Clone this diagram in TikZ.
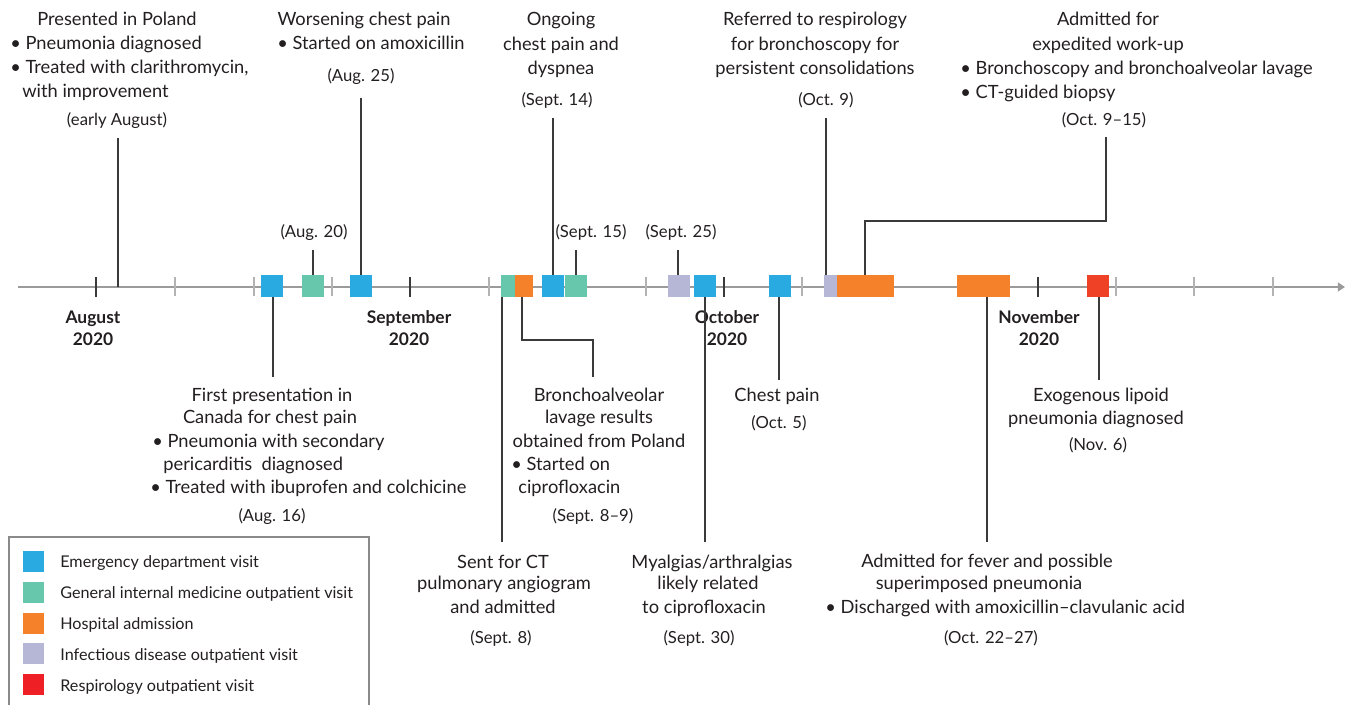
\documentclass[tikz,border=0pt]{standalone}
\usepackage{fontspec}
\setmainfont{Lato}
\usetikzlibrary{arrows.meta}
\definecolor{edblue}{HTML}{29ABE2}
\definecolor{gimgreen}{HTML}{66C7AD}
\definecolor{hosporange}{HTML}{F5822A}
\definecolor{idlav}{HTML}{B6B6D6}
\definecolor{resred}{HTML}{EE4125}
\definecolor{keyred}{HTML}{EE2025}
\definecolor{textc}{HTML}{231F20}
\definecolor{connc}{HTML}{3A3A3A}
\definecolor{axisc}{HTML}{9B9B9B}
\definecolor{tickc}{HTML}{B3B3B3}
\definecolor{framec}{HTML}{8A8A8A}
\begin{document}
\begin{tikzpicture}[x=0.02cm,y=-0.02cm,
  txt/.style={font=\fontsize{10.4}{12}\selectfont, text=textc, inner sep=0pt, anchor=base},
  lft/.style={txt, anchor=base west},
  date/.style={txt, font=\fontsize{9.5}{11}\selectfont},
  month/.style={txt, font=\fontsize{9.9}{11}\selectfont\bfseries},
  keytxt/.style={txt, anchor=base west, font=\fontsize{9.2}{11}\selectfont},
  evbox/.style={rectangle, inner sep=0pt, minimum height=0.44cm, minimum width=0.44cm},
  conn/.style={draw=connc, line width=0.7pt},
  majtick/.style={draw=connc, line width=0.6pt},
  mintick/.style={draw=tickc, line width=0.7pt},
  axisline/.style={draw=axisc, line width=0.9pt, -{Triangle[length=4pt,width=5pt]}},
  keybox/.style={rectangle, inner sep=0pt, minimum size=0.42cm},
  keyframe/.style={draw=framec, line width=0.6pt},
]
\useasboundingbox (0,0) rectangle (1345,705);

% axis
\coordinate (axs) at (18,287);
\coordinate (axe) at (1345,287);
\draw[axisline] (axs) -- (axe);
\foreach \x in {175,254,332,489,567,646,802,880,959,1116,1194,1273}
  \draw[mintick] (\x,277) -- (\x,296);
\foreach \x in {96,410,724,1038}
  \draw[majtick] (\x,277) -- (\x,297);

% months
\node[month] (mAug) at (93,324) {August};
\node[month] (mAugY) at (93,346) {2020};
\node[month] (mSep) at (409,324) {September};
\node[month] (mSepY) at (409,346) {2020};
\node[month] (mOct) at (727,324) {October};
\node[month] (mOctY) at (727,346) {2020};
\node[month] (mNov) at (1039,324) {November};
\node[month] (mNovY) at (1039,346) {2020};

% event boxes
\node[evbox, fill=edblue] (b16) at (272,286) {};
\node[evbox, fill=gimgreen] (g20) at (313,286) {};
\node[evbox, fill=edblue] (b25) at (361,286) {};
\node[evbox, fill=gimgreen, minimum width=0.28cm] (g08) at (508,286) {};
\node[evbox, fill=hosporange, minimum width=0.36cm] (h08) at (524,286) {};
\node[evbox, fill=edblue] (b14) at (553,286) {};
\node[evbox, fill=gimgreen] (g15) at (576,286) {};
\node[evbox, fill=idlav] (i25) at (679,286) {};
\node[evbox, fill=edblue] (b30) at (705,286) {};
\node[evbox, fill=edblue] (b05) at (780,286) {};
\node[evbox, fill=idlav, minimum width=0.26cm] (i09) at (830.5,286) {};
\node[evbox, fill=hosporange, minimum width=1.14cm] (h09) at (865.5,286) {};
\node[evbox, fill=hosporange, minimum width=1.06cm] (h22) at (983.5,286) {};
\node[evbox, fill=resred] (r06) at (1098,286) {};

% ---- top labels
\node[txt] (t1a) at (117,26) {Presented in Poland};
\node[lft] (t1b) at (10,50) {• Pneumonia diagnosed};
\node[lft] (t1c) at (10,74) {• Treated with clarithromycin,};
\node[lft] (t1d) at (22,98) {with improvement};
\node[date] (t1e) at (117,126) {(early August)};

\node[txt] (t2a) at (364,26) {Worsening chest pain};
\node[lft] (t2b) at (277,50) {• Started on amoxicillin};
\node[date] (t2c) at (361,82) {(Aug. 25)};

\node[txt] (t3a) at (561,26) {Ongoing};
\node[txt] (t3b) at (561,51) {chest pain and};
\node[txt] (t3c) at (561,75) {dyspnea};
\node[date] (t3d) at (557,106) {(Sept. 14)};

\node[txt] (t4a) at (815,26) {Referred to respirology};
\node[txt] (t4b) at (815,51) {for bronchoscopy for};
\node[txt] (t4c) at (815,75) {persistent consolidations};
\node[date] (t4d) at (826,106) {(Oct. 9)};

\node[txt] (t5a) at (1108,26) {Admitted for};
\node[txt] (t5b) at (1108,51) {expedited work-up};
\node[lft] (t5c) at (960,75) {• Bronchoscopy and bronchoalveolar lavage};
\node[lft] (t5d) at (960,99) {• CT-guided biopsy};
\node[date] (t5e) at (1104,126) {(Oct. 9–15)};

\node[date] (t6) at (314,238) {(Aug. 20)};
\node[date] (t7) at (591,238) {(Sept. 15)};
\node[date] (t8) at (681,238) {(Sept. 25)};

% ---- bottom labels
\node[txt] (u1a) at (272,402) {First presentation in};
\node[txt] (u1b) at (270,424) {Canada for chest pain};
\node[lft] (u1c) at (152,448) {• Pneumonia with secondary};
\node[lft] (u1d) at (163,471) {pericarditis\ \ diagnosed};
\node[lft] (u1e) at (150,494) {• Treated with ibuprofen and colchicine};
\node[date] (u1f) at (272,521) {(Aug. 16)};

\node[txt] (u2a) at (599,402) {Bronchoalveolar};
\node[txt] (u2b) at (599,424) {lavage results};
\node[txt] (u2c) at (599,448) {obtained from Poland};
\node[lft] (u2d) at (511,471) {• Started on};
\node[lft] (u2e) at (518,494) {ciprofloxacin};
\node[date] (u2f) at (593,521) {(Sept. 8–9)};

\node[txt] (u3a) at (503,568) {Sent for CT};
\node[txt] (u3b) at (504,589) {pulmonary angiogram};
\node[txt] (u3c) at (503,613) {and admitted};
\node[date] (u3d) at (501,643) {(Sept. 8)};

\node[txt] (u4a) at (712,568) {Myalgias/arthralgias};
\node[txt] (u4b) at (708,589) {likely related};
\node[txt] (u4c) at (704,613) {to ciprofloxacin};
\node[date] (u4d) at (699,643) {(Sept. 30)};

\node[txt] (u5a) at (777,402) {Chest pain};
\node[date] (u5b) at (779,429) {(Oct. 5)};

\node[txt] (u6a) at (1101,402) {Exogenous lipoid};
\node[txt] (u6b) at (1096,425) {pneumonia diagnosed};
\node[date] (u6c) at (1098,451) {(Nov. 6)};

\node[txt] (u7a) at (987,567) {Admitted for fever and possible};
\node[txt] (u7b) at (979,589) {superimposed pneumonia};
\node[lft] (u7c) at (825,613) {• Discharged with amoxicillin–clavulanic acid};
\node[date] (u7d) at (991,643) {(Oct. 22–27)};

% ---- connectors (free ends as coordinates)
\coordinate (cEA) at (118,138);
\coordinate (cEAx) at (118,287);
\draw[conn] (cEA) -- (cEAx);
\coordinate (c25) at (361,98);
\draw[conn] (c25) -- (b25.north);
\coordinate (c20) at (313,250);
\draw[conn] (c20) -- (g20.north);
\coordinate (c14) at (553,118);
\draw[conn] (c14) -- (b14.north);
\coordinate (c15) at (576,250);
\draw[conn] (c15) -- (g15.north);
\coordinate (cS25) at (678,250);
\draw[conn] (cS25) -- (cS25 |- i25.north);
\coordinate (cO9) at (826,118);
\draw[conn] (cO9) -- (cO9 |- i09.north);
\coordinate (cO915) at (1106,137);
\coordinate (cO915b) at (865,221);
\draw[conn] (cO915) -- (cO915 |- cO915b) -- (cO915b) -- (cO915b |- h09.north);

\coordinate (c16) at (273,377);
\draw[conn] (c16 |- b16.south) -- (c16);
\coordinate (cS8) at (502,542);
\draw[conn] (cS8 |- g08.south) -- (cS8);
\coordinate (cS89a) at (522,340);
\coordinate (cS89) at (593,377);
\draw[conn] (cS89a |- h08.south) -- (cS89a) -- (cS89 |- cS89a) -- (cS89);
\coordinate (cS30) at (705,542);
\draw[conn] (cS30 |- b30.south) -- (cS30);
\coordinate (cO5) at (779,380);
\draw[conn] (cO5 |- b05.south) -- (cO5);
\coordinate (cO22) at (987,542);
\draw[conn] (cO22 |- h22.south) -- (cO22);
\coordinate (cN6) at (1099,380);
\draw[conn] (cN6 |- r06.south) -- (cN6);

% ---- legend
\draw[keyframe] (9,706) -- (9,537) -- (369,537) -- (369,706);
\node[keybox, fill=edblue] (k1) at (33.5,561.5) {};
\node[keybox, fill=gimgreen] (k2) at (33.5,592.3) {};
\node[keybox, fill=hosporange] (k3) at (33.5,623.1) {};
\node[keybox, fill=idlav] (k4) at (33.5,653.9) {};
\node[keybox, fill=keyred] (k5) at (33.5,684.7) {};
\node[keytxt] (kt1) at (60,567) {Emergency department visit};
\node[keytxt] (kt2) at (60,598) {General internal medicine outpatient visit};
\node[keytxt] (kt3) at (60,629) {Hospital admission};
\node[keytxt] (kt4) at (60,660) {Infectious disease outpatient visit};
\node[keytxt] (kt5) at (60,691) {Respirology outpatient visit};
\end{tikzpicture}
\end{document}
